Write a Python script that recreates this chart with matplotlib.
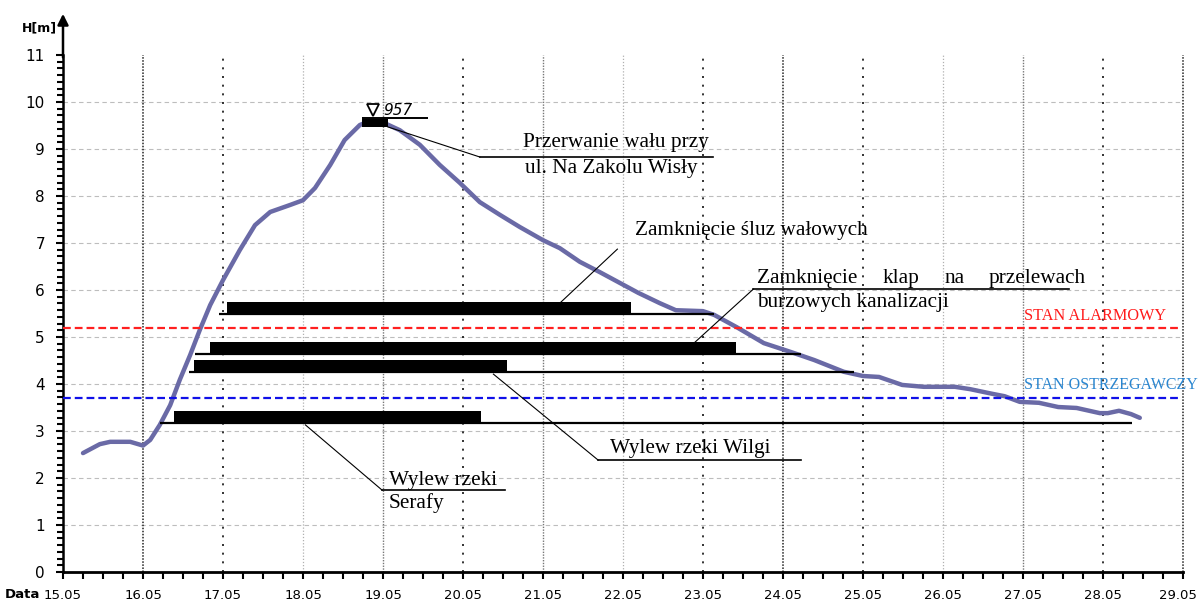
import matplotlib.pyplot as plt
import matplotlib.transforms as mtransforms
import numpy as np
from matplotlib.ticker import AutoMinorLocator

# --------------------------------------------------------------------------------------------------
# Data (x = day of May, H = water level in metres)

days = list(range(15, 30))
day_labels = [f"{d}.05" for d in days]

curve_x = [15.25, 15.46, 15.59, 15.84, 16.00, 16.09, 16.21, 16.34, 16.46, 16.59, 16.71, 16.84,
           17.00, 17.21, 17.40, 17.59, 17.84, 18.00, 18.15, 18.34, 18.52, 18.71, 18.84, 19.02,
           19.21, 19.46, 19.71, 19.96, 20.21, 20.46, 20.71, 21.00, 21.21, 21.46, 21.71, 22.19,
           22.46, 22.66, 23.00, 23.14, 23.42, 23.76, 24.10, 24.39, 24.76, 25.00, 25.20, 25.49,
           25.76, 26.15, 26.34, 26.62, 26.77, 26.96, 27.20, 27.44, 27.67, 27.96, 28.06, 28.20,
           28.35, 28.46]
curve_h = [2.53, 2.72, 2.77, 2.77, 2.69, 2.81, 3.13, 3.55, 4.09, 4.62, 5.15, 5.68,
           6.21, 6.85, 7.38, 7.66, 7.81, 7.91, 8.17, 8.66, 9.19, 9.51, 9.60, 9.55,
           9.40, 9.09, 8.66, 8.28, 7.87, 7.60, 7.34, 7.06, 6.89, 6.60, 6.38, 5.94,
           5.72, 5.57, 5.55, 5.47, 5.21, 4.87, 4.68, 4.51, 4.26, 4.17, 4.15, 3.98,
           3.94, 3.94, 3.89, 3.79, 3.74, 3.62, 3.60, 3.51, 3.49, 3.38, 3.38, 3.43,
           3.36, 3.28]

# action bars: black bar (start/end) sitting on a thin line (line_start/line_end)
bar_start = [17.05, 16.84, 16.64, 16.39]
bar_end = [22.10, 23.41, 20.55, 20.23]
bar_base = [5.49, 4.64, 4.26, 3.17]
line_start = [16.95, 16.65, 16.58, 16.21]
line_end = [23.14, 24.23, 24.89, 28.36]

# peak (957 cm)
peak_start, peak_end, peak_base = 18.74, 19.06, 9.47
peak_line_end = 19.56
peak_label = "957"

alarm_level = 5.2
warning_level = 3.7

# --------------------------------------------------------------------------------------------------

serif = 'Liberation Serif'

fig = plt.figure(figsize=(11.98, 6.02), dpi=100)
ax = fig.add_axes([63/1198, 30/602, 1120/1198, 517/602])

ax.set_xlim(15, 29)
ax.set_ylim(0, 11)

# grid: horizontal dashed light gray
for h in range(1, 11):
    ax.axhline(h, color='#bdbdbd', lw=0.8, ls=(0, (4, 3)), zorder=1)

# vertical dotted lines (two overlapping grids in the original)
dense_dark = dict(color='#222222', lw=1.1, ls=(0, (1, 1)))
dense_gray = dict(color='#777777', lw=1.0, ls=(0, (1, 1)))
sparse_black = dict(color='#111111', lw=1.2, ls=(0, (1.2, 4)))
light_gray = dict(color='#b0b0b0', lw=0.9, ls=(0, (1, 1.5)))
vstyle = {16: dense_dark, 17: sparse_black, 18: light_gray, 19: dense_gray, 20: sparse_black,
          21: dense_gray, 22: light_gray, 23: sparse_black, 24: dense_dark, 25: sparse_black,
          26: light_gray, 27: dense_gray, 28: sparse_black, 29: dense_dark}
for d in days[1:]:
    ax.plot([d, d], [0, 11], zorder=1, clip_on=False, **vstyle[d])

# water level curve
ax.plot(curve_x, curve_h, color='#6a6aa6', lw=3.2, solid_capstyle='round',
        solid_joinstyle='round', zorder=3)

# alarm / warning lines
ax.plot([15, 28.96], [alarm_level, alarm_level], color='#ff2020', lw=1.6,
        ls=(0, (3.5, 1.8)), zorder=4)
ax.plot([15, 28.96], [warning_level, warning_level], color='#1010e8', lw=1.6,
        ls=(0, (3.5, 1.8)), zorder=4)
ax.text(27.01, 5.36, "STAN ALARMOWY", color='#ff1a1a', fontsize=11.7, family=serif, zorder=5)
ax.text(27.01, 3.89, "STAN OSTRZEGAWCZY", color='#2a86d0', fontsize=11.5, family=serif,
        zorder=5, clip_on=False)

# bars and thin lines
ax.barh(bar_base, np.array(bar_end) - np.array(bar_start), left=bar_start, height=0.25,
        align='edge', color='black', zorder=5)
ax.hlines(bar_base, line_start, line_end, color='black', lw=1.6, zorder=5)

# peak marker
ax.barh([peak_base], [peak_end - peak_start], left=[peak_start], height=0.17,
        align='edge', color='black', zorder=5)
ax.hlines([peak_base + 0.19], [peak_start], [peak_line_end], color='black', lw=1.4, zorder=5)
ax.plot([18.875], [9.83], marker='v', ms=9, mfc='white', mec='black', mew=1.3, zorder=6)
ax.text(19.0, 9.72, peak_label, fontsize=11, style='italic', zorder=6)

# leader lines and annotation texts
lk = dict(color='black', lw=0.8, zorder=5)
uk = dict(color='black', lw=1.2, zorder=5)
tk = dict(fontsize=15.3, family=serif, zorder=6)

ax.plot([19.06, 20.21], [9.47, 8.83], **lk)
ax.plot([20.21, 23.12], [8.83, 8.83], **uk)
ax.text(20.75, 9.04, "Przerwanie wału przy", **tk)
ax.text(20.78, 8.49, "ul. Na Zakolu Wisły", **tk)

ax.plot([21.21, 21.93], [5.72, 6.87], **lk)
ax.text(22.15, 7.17, "Zamknięcie śluz wałowych", **tk)

ax.plot([22.90, 23.63], [4.89, 6.02], **lk)
ax.plot([23.63, 27.58], [6.02, 6.02], **uk)
ax.text(23.675, 6.15, "Zamknięcie", **tk)
ax.text(25.24, 6.15, "klap", **tk)
ax.text(26.025, 6.15, "na", **tk)
ax.text(27.79, 6.15, "przelewach", ha='right', **tk)
ax.text(23.675, 5.64, "burzowych kanalizacji", **tk)

ax.plot([20.38, 21.69], [4.21, 2.38], **lk)
ax.plot([21.69, 24.23], [2.38, 2.38], **uk)
ax.text(21.84, 2.53, "Wylew rzeki Wilgi", **tk)

ax.plot([18.03, 18.99], [3.13, 1.74], **lk)
ax.plot([18.99, 20.53], [1.74, 1.74], **uk)
ax.text(19.075, 1.85, "Wylew rzeki", **tk)
ax.text(19.075, 1.36, "Serafy", **tk)

# axes
for s in ['top', 'right']:
    ax.spines[s].set_visible(False)
ax.spines['left'].set_linewidth(1.8)
ax.spines['bottom'].set_linewidth(2.0)

ax.set_xticks(days)
ax.set_xticklabels(day_labels)
ax.set_xticks(np.arange(15, 29.01, 0.25), minor=True)
ax.set_yticks(range(0, 12))
ax.yaxis.set_minor_locator(AutoMinorLocator(7))
ax.tick_params(axis='x', which='both', length=5, width=1.5, labelsize=9.5, pad=7)
ax.tick_params(axis='y', which='major', length=5, width=1.5, labelsize=11, pad=8)
ax.tick_params(axis='y', which='minor', length=4, width=1.5)

# keep the last date label inside the picture
last = ax.get_xticklabels()[-1]
last.set_transform(last.get_transform() + mtransforms.ScaledTranslation(-5/100, 0, fig.dpi_scale_trans))

# arrow on top of y axis
ax.annotate('', xy=(0, 1.085), xytext=(0, 0.99), xycoords='axes fraction',
            arrowprops=dict(arrowstyle='-|>', lw=1.8, color='black', mutation_scale=16))

fig.text(22/1198, 1 - 28/602, "H[m]", fontsize=9, fontweight='bold', va='center')
fig.text(5/1198, 1 - 594/602, "Data", fontsize=9.5, fontweight='bold', va='center')

fig.savefig('out.png', dpi=100)
